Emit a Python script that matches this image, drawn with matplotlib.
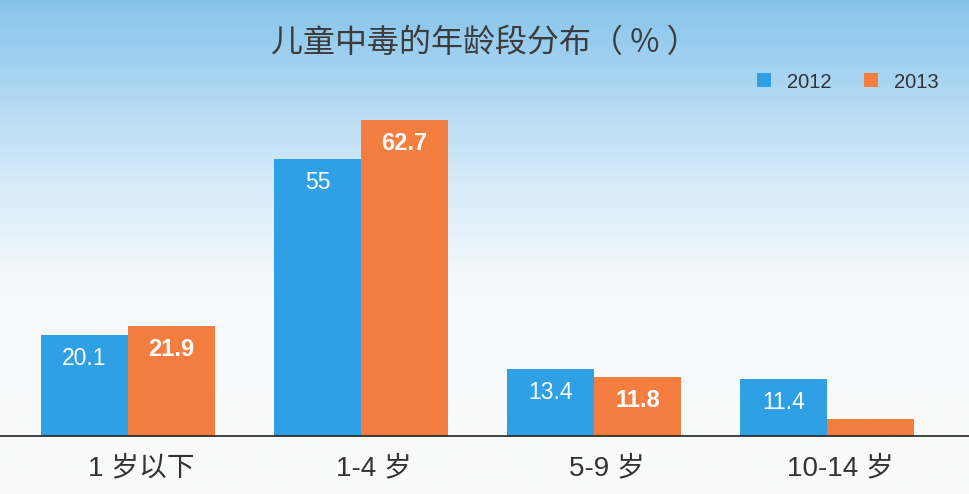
import matplotlib
matplotlib.use("Agg")
import matplotlib.pyplot as plt
import numpy as np
from matplotlib.colors import LinearSegmentedColormap

plt.rcParams['font.family'] = ['Noto Sans CJK SC', 'DejaVu Sans']

categories = ['1 岁以下', '1-4 岁', '5-9 岁', '10-14 岁']
series_names = ['2012', '2013']
values_2012 = [20.1, 55, 13.4, 11.4]
values_2013 = [21.9, 62.7, 11.8, 3.4]
show_label_2013 = [True, True, True, False]
title = '儿童中毒的年龄段分布（ % ）'

W, H = 970, 494
fig = plt.figure(figsize=(W / 100, H / 100), dpi=100)

# background gradient
bg = fig.add_axes([0, 0, 1, 1], zorder=0)
bg.set_axis_off()
cmap = LinearSegmentedColormap.from_list('bg', [(0.0, '#FAFAFA'), (0.40, '#F8FAFC'), (0.62, '#D9ECF9'), (1.0, '#86C4EC')])
grad = np.linspace(0, 1, 256).reshape(-1, 1)
bg.imshow(grad, aspect='auto', cmap=cmap, origin='lower', extent=[0, 1, 0, 1])
bg.set_xlim(0, 1)
bg.set_ylim(0, 1)

base_px = 436.3
top_px = 60
px_per_unit = 5.05
ax = fig.add_axes([0, (H - base_px) / H, 1, (base_px - top_px) / H], zorder=1)
ax.patch.set_alpha(0)
spacing = 233.0
c0 = 128.0
ax.set_xlim(-c0 / spacing, (W - c0) / spacing)
ax.set_ylim(0, (base_px - top_px) / px_per_unit)

x = np.arange(len(categories))
w = 87 / spacing
blue = '#2FA0E4'
orange = '#F47D40'
num_font = ['Liberation Sans', 'DejaVu Sans']
b1 = ax.bar(x - w / 2, values_2012, width=w, color=blue, label=series_names[0], zorder=2)
b2 = ax.bar(x + w / 2, values_2013, width=w, color=orange, label=series_names[1], zorder=2)

for xi, v in zip(x, values_2012):
    ax.annotate(f'{v:g}', (xi - w / 2, v), xytext=(0, -17), textcoords='offset points',
                ha='center', va='center', color='white', fontsize=16.5, family=num_font)
for xi, v, s in zip(x, values_2013, show_label_2013):
    if s:
        ax.annotate(f'{v:g}', (xi + w / 2, v), xytext=(0, -17), textcoords='offset points',
                    ha='center', va='center', color='white', fontsize=17, fontweight='bold',
                    family=num_font)

for s in ['top', 'right', 'left']:
    ax.spines[s].set_visible(False)
ax.spines['bottom'].set_color('#222222')
ax.spines['bottom'].set_linewidth(1.2)
ax.set_yticks([])
label_offset = 13 / spacing
ax.set_xticks(x + label_offset)
ax.set_xticklabels(categories, fontsize=20, color='#333333')
for t in ax.get_xticklabels():
    t.set_family(['Liberation Sans', 'Noto Sans CJK SC'])
ax.tick_params(axis='x', length=0, pad=14)

fig.text(0.5, 1 - 43 / H, title, ha='center', va='center', fontsize=23, color='#3C3C3C',
         fontweight='light')

leg = ax.legend(handles=[b1, b2], labels=series_names, loc='center', bbox_to_anchor=(848 / W, 1 - 82 / H),
                bbox_transform=fig.transFigure, ncol=2, frameon=False, fontsize=14.5,
                handlelength=0.7, handleheight=0.7, handletextpad=0.8, columnspacing=1.6)
for t in leg.get_texts():
    t.set_color('#333333')
    t.set_family(num_font)

fig.savefig('out.png', dpi=100)
